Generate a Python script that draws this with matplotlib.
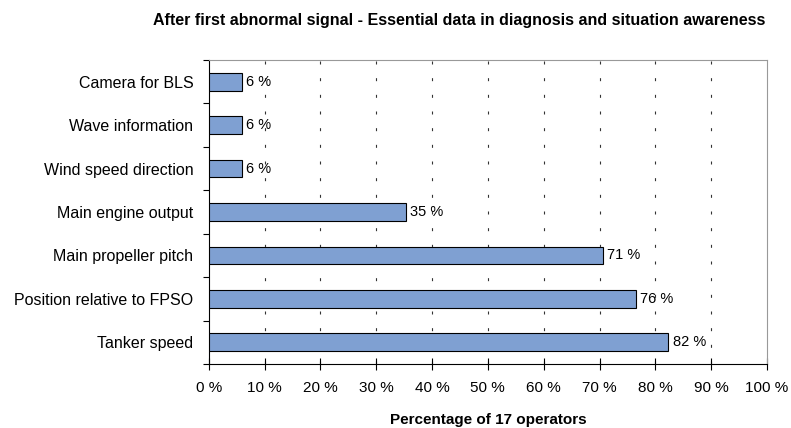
import matplotlib.pyplot as plt
from matplotlib.ticker import FixedLocator

plt.rcParams['font.family'] = ['Liberation Sans', 'DejaVu Sans']

# categorias de abajo hacia arriba
categorias = ['Tanker speed', 'Position relative to FPSO', 'Main propeller pitch',
              'Main engine output', 'Wind speed direction', 'Wave information',
              'Camera for BLS']
operadores = [14, 13, 12, 6, 1, 1, 1]
total_operadores = 17
porcentajes = [o / total_operadores * 100 for o in operadores]
etiquetas = ['82 %', '76 %', '71 %', '35 %', '6 %', '6 %', '6 %']
ticks_x = [0, 10, 20, 30, 40, 50, 60, 70, 80, 90, 100]

fig = plt.figure(figsize=(7.91, 4.28), dpi=100)
ax = fig.add_axes([0.2638, 0.1495, 0.7059, 0.7103])

pos = range(len(categorias))
ax.barh(pos, porcentajes, height=0.41, color='#7FA0D2', edgecolor='black', linewidth=0.8, zorder=3)

for p, v, t in zip(pos, porcentajes, etiquetas):
    ax.text(v + 0.8, p, t, va='center', ha='left', fontsize=10.5, zorder=4)

ax.set_xlim(0, 100)
ax.set_ylim(-0.5, len(categorias) - 0.5)

ax.set_xticks(ticks_x)
ax.set_xticklabels([f'{t} %' for t in ticks_x], fontsize=11)
ax.set_yticks(list(pos))
ax.set_yticklabels(categorias, fontsize=11.5)
ax.tick_params(axis='y', length=0, pad=11)
ax.yaxis.set_minor_locator(FixedLocator([i - 0.5 for i in range(len(categorias) + 1)]))
ax.tick_params(axis='y', which='minor', length=4, width=0.8)
ax.tick_params(axis='x', direction='inout', length=9, width=0.8, pad=8)

# lineas guia punteadas
for t in ticks_x[1:-1]:
    ax.axvline(t, color='#333333', linestyle=(0, (2.7, 12.3)), linewidth=0.8, zorder=1)

ax.spines['left'].set_color('black')
ax.spines['bottom'].set_color('black')
ax.spines['top'].set_color('#999999')
ax.spines['right'].set_color('#999999')

ax.set_xlabel('Percentage of 17 operators', fontsize=11, fontweight='bold', labelpad=13)
fig.text(0.580, 0.953, 'After first abnormal signal - Essential data in diagnosis and situation awareness',
         ha='center', va='center', fontsize=11.5, fontweight='bold')

plt.savefig('out.png', dpi=100)
